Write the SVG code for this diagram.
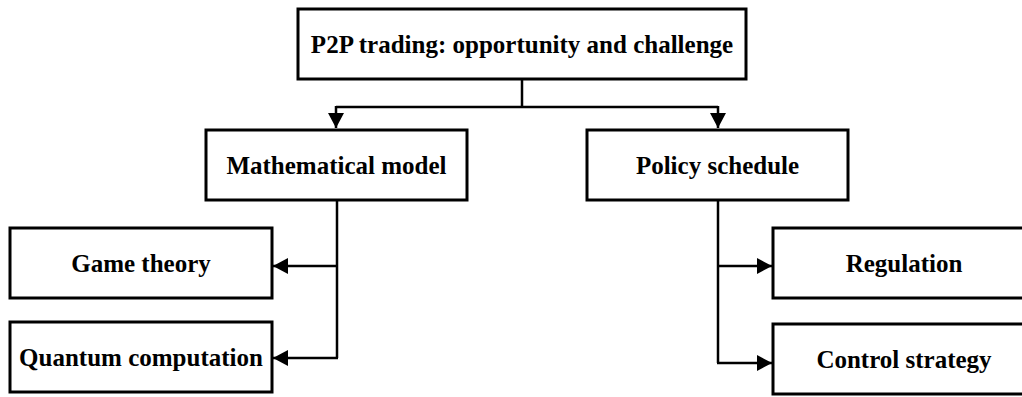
<svg xmlns="http://www.w3.org/2000/svg" width="1022" height="397" viewBox="0 0 1022 397">
  <style>
    .box { fill: #ffffff; stroke: #000000; stroke-width: 3; }
    .label { font-family: "Liberation Serif", "Times New Roman", serif; font-weight: bold; font-size: 25px; fill: #000000; text-anchor: middle; }
    .wire { fill: none; stroke: #000000; stroke-width: 2.5; }
  </style>
  <defs>
    <marker id="arrow" markerUnits="userSpaceOnUse" markerWidth="16" markerHeight="16" viewBox="0 0 16 16" refX="15" refY="8" orient="auto">
      <path d="M0,0 L15,8 L0,16 Z" fill="#000000"/>
    </marker>
  </defs>
  <rect width="1022" height="397" fill="#ffffff"/>

  <g id="connectors">
    <!-- root to level-one branches -->
    <path class="wire" d="M522,79 V107 M336,107 H718"/>
    <path class="wire" d="M336,106 V128" marker-end="url(#arrow)"/>
    <path class="wire" d="M718,106 V128" marker-end="url(#arrow)"/>
    <!-- Mathematical model branch -->
    <path class="wire" d="M337,200 V358 M337,266 H338"/>
    <path class="wire" d="M338,266 H273" marker-end="url(#arrow)"/>
    <path class="wire" d="M338,358 H273" marker-end="url(#arrow)"/>
    <!-- Policy schedule branch -->
    <path class="wire" d="M718,200 V363"/>
    <path class="wire" d="M717,266 H772" marker-end="url(#arrow)"/>
    <path class="wire" d="M717,363 H772" marker-end="url(#arrow)"/>
  </g>

  <g id="root">
    <rect class="box" x="298" y="9" width="448" height="70"/>
    <text class="label" x="522" y="53">P2P trading: opportunity and challenge</text>
  </g>
  <g id="math-model">
    <rect class="box" x="206" y="130" width="261" height="70"/>
    <text class="label" x="336.5" y="174">Mathematical model</text>
  </g>
  <g id="policy-schedule">
    <rect class="box" x="587" y="130" width="261" height="70"/>
    <text class="label" x="717.5" y="174">Policy schedule</text>
  </g>
  <g id="game-theory">
    <rect class="box" x="10" y="228" width="262" height="70"/>
    <text class="label" x="141" y="272">Game theory</text>
  </g>
  <g id="quantum-computation">
    <rect class="box" x="10" y="322" width="262" height="70"/>
    <text class="label" x="141" y="366">Quantum computation</text>
  </g>
  <g id="regulation">
    <rect class="box" x="773" y="228" width="262" height="70"/>
    <text class="label" x="904" y="272">Regulation</text>
  </g>
  <g id="control-strategy">
    <rect class="box" x="773" y="324" width="262" height="70"/>
    <text class="label" x="904" y="368">Control strategy</text>
  </g>
</svg>
